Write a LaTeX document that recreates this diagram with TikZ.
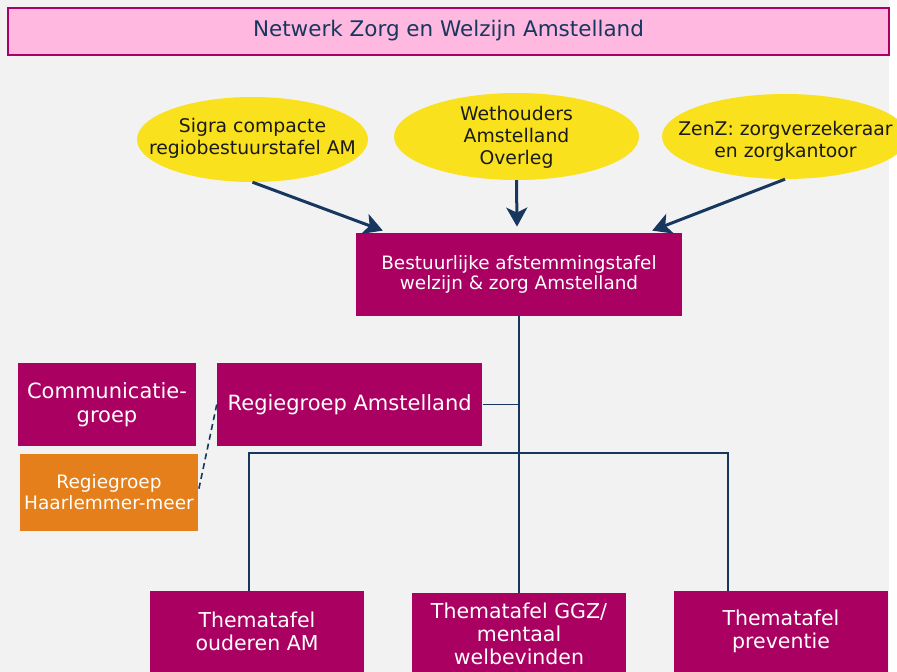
\documentclass[tikz,border=0pt]{standalone}
\usepackage{fontspec}
\setmainfont{DejaVu Sans}
\usetikzlibrary{arrows.meta,shapes.geometric,calc}
\definecolor{bg}{HTML}{F2F2F2}
\definecolor{mag}{HTML}{AA0061}
\definecolor{navy}{HTML}{17375E}
\definecolor{ylw}{HTML}{F9E11E}
\definecolor{org}{HTML}{E47F1B}
\definecolor{pnk}{HTML}{FFB8DF}
\definecolor{etxt}{HTML}{1A1A1A}
\begin{document}
\begin{tikzpicture}[x=1pt,y=-1pt,
  magbox/.style={rectangle, fill=mag, text=white, inner sep=0pt, align=center},
  ellbox/.style={ellipse, fill=ylw, inner sep=0pt},
  elltext/.style={inner sep=0pt, align=center, text=etxt, font=\fontsize{18.8}{22}\selectfont},
  conn/.style={draw=navy, line width=1.6pt},
  arr/.style={draw=navy, line width=3pt, -{Stealth[length=19pt,width=21pt,inset=5pt]}}
]
\useasboundingbox (0,0) rectangle (897,672);
\fill[white] (0,0) rectangle (897,672);
\fill[bg] (0,0) rectangle (888.5,672);
\begin{scope}
\clip (0,0) rectangle (897,672);

% banner
\node[rectangle, fill=pnk, draw=mag, line width=2pt, minimum width=881, minimum height=47,
  inner sep=0pt, text=navy, font=\fontsize{21.5}{24}\selectfont] (banner) at (448.5,31) {Netwerk Zorg en Welzijn Amstelland};

% ellipses
\node[ellbox, minimum width=231, minimum height=85] (e1) at (252.5,139.5) {};
\node[elltext] (e1t) at (252.5,138.5) {Sigra compacte\\regiobestuurstafel AM};
\node[ellbox, minimum width=245, minimum height=87] (e2) at (516.5,136.5) {};
\node[elltext] (e2t) at (516.5,137.5) {Wethouders\\Amstelland\\Overleg};
\node[ellbox, minimum width=246, minimum height=85] (e3) at (785,136.5) {};
\node[elltext] (e3t) at (785.5,141) {ZenZ: zorgverzekeraar\\en zorgkantoor};

% main boxes
\node[magbox, minimum width=326, minimum height=83, font=\fontsize{18.4}{20.5}\selectfont] (best) at (519,274.3)
  {Bestuurlijke afstemmingstafel\\welzijn \& zorg Amstelland};
\node[magbox, minimum width=265.5, minimum height=83, font=\fontsize{21}{24}\selectfont] (regie) at (349.7,404.5)
  {Regiegroep Amstelland};
\node[magbox, minimum width=178, minimum height=83, font=\fontsize{21}{24}\selectfont] (comm) at (107,404.5)
  {Communicatie-\\groep};
\node[rectangle, fill=org, text=white, inner sep=0pt, align=center, minimum width=178, minimum height=77,
  font=\fontsize{18.5}{20.5}\selectfont] (haar) at (109,492) {Regiegroep\\Haarlemmer-meer};

% bottom boxes
\node[magbox, minimum width=214, minimum height=81, font=\fontsize{20.5}{23}\selectfont] (oud) at (257,631.5)
  {Thematafel\\ouderen AM};
\node[magbox, minimum width=214, minimum height=82, font=\fontsize{20.5}{23}\selectfont] (ggz) at (519,634)
  {Thematafel GGZ/\\mentaal\\welbevinden};
\node[magbox, minimum width=214, minimum height=81, font=\fontsize{20.5}{23}\selectfont] (prev) at (781,631.5)
  {Thematafel\\preventie};

% arrows
\draw[arr] (e1.south) -- ($(best.north west)+(27,-2)$);
\draw[arr] (e2.south) -- ($(best.north)+(-2,-6)$);
\draw[arr] (e3.south) -- ($(best.north east)+(-30,-2)$);

% connectors
\coordinate (bar) at (519,453);
\coordinate (b1) at ($(oud.north west)+(99,0)$);
\coordinate (b3) at ($(prev.north west)+(54,0)$);
\draw[conn] (best.south) -- (ggz.north);
\draw[conn] (regie.east) -- ($(regie.east)+(35,0)$);
\draw[conn] (b1) |- (bar) -| (b3);
\draw[draw=navy, line width=1.6pt, dash pattern=on 6pt off 4pt] (regie.west) -- (haar.east);
\end{scope}
\end{tikzpicture}
\end{document}
